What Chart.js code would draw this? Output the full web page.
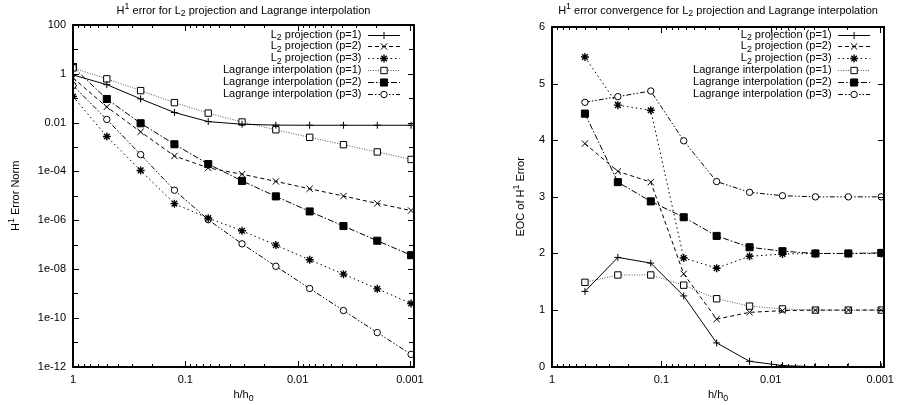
<!DOCTYPE html>
<html><head><meta charset="utf-8">
<script src="https://cdn.jsdelivr.net/npm/chart.js@4.4.1/dist/chart.umd.min.js"></script>
<style>
html,body{margin:0;padding:0;background:#fff;}
#wrap{position:relative;width:901px;height:405px;overflow:hidden;background:#fff;}
#c1{position:absolute;left:0;top:0;}
#c2{position:absolute;left:450px;top:0;}
</style></head><body>
<div id="wrap"><canvas id="c1" width="450" height="405"></canvas><canvas id="c2" width="451" height="405"></canvas></div>
<script>
// ---------- data ----------
const hValues = [1, 0.5, 0.25, 0.125, 0.0625, 0.03125, 0.015625, 0.0078125, 0.00390625, 0.001953125, 0.0009765625];

const errL2p1  = [0.9, 0.36, 0.094, 0.026, 0.011, 0.0086, 0.0079, 0.0078, 0.0078, 0.0078, 0.0078];
const errL2p2  = [0.68, 0.044, 0.0042, 4.3e-4, 1.4e-4, 7.7e-5, 3.9e-5, 1.95e-5, 9.8e-6, 4.9e-6, 2.5e-6];
const errL2p3  = [0.118, 0.0027, 1.1e-4, 4.8e-6, 1.22e-6, 3.7e-7, 9.6e-8, 2.4e-8, 6.2e-9, 1.55e-9, 3.9e-10];
const errLagP1 = [1.75, 0.62, 0.205, 0.066, 0.0245, 0.0106, 0.0051, 0.0025, 0.00125, 0.00063, 0.00031];
const errLagP2 = [1.9, 0.093, 0.0094, 0.0013, 2.0e-4, 4.1e-5, 9.5e-6, 2.3e-6, 5.8e-7, 1.45e-7, 3.7e-8];
const errLagP3 = [0.33, 0.0135, 4.9e-4, 1.7e-5, 1.05e-6, 1.08e-7, 1.3e-8, 1.6e-9, 2.0e-10, 2.5e-11, 3.2e-12];

const eocH = [0.5, 0.25, 0.125, 0.0625, 0.03125, 0.015625, 0.0078125, 0.00390625, 0.001953125, 0.0009765625];
const eocL2p1  = [1.33, 1.93, 1.83, 1.25, 0.42, 0.095, 0.02, 0.0, 0.0, 0.0];
const eocL2p2  = [3.94, 3.45, 3.26, 1.64, 0.84, 0.96, 0.99, 1.0, 1.0, 1.0];
const eocL2p3  = [5.47, 4.62, 4.53, 1.92, 1.74, 1.95, 1.99, 2.0, 2.0, 2.0];
const eocLagP1 = [1.49, 1.62, 1.62, 1.44, 1.2, 1.07, 1.02, 1.0, 1.0, 1.0];
const eocLagP2 = [4.47, 3.26, 2.92, 2.64, 2.31, 2.11, 2.04, 2.0, 2.0, 2.01];
const eocLagP3 = [4.67, 4.77, 4.87, 3.99, 3.27, 3.08, 3.02, 3.0, 3.0, 3.0];

const seriesLabels = ['L_2 projection (p=1)', 'L_2 projection (p=2)', 'L_2 projection (p=3)',
  'Lagrange interpolation (p=1)', 'Lagrange interpolation (p=2)', 'Lagrange interpolation (p=3)'];

const xTickValues = [1, 0.1, 0.01, 0.001];
const xTickLabels = ['1', '0.1', '0.01', '0.001'];
const yLogTickValues = [100, 1, 0.01, 1e-4, 1e-6, 1e-8, 1e-10, 1e-12];
const yLogTickLabels = ['100', '1', '0.01', '1e-04', '1e-06', '1e-08', '1e-10', '1e-12'];
const yLogMinorTicks = [10, 0.1, 1e-3, 1e-5, 1e-7, 1e-9, 1e-11];
const yEocTickValues = [0, 1, 2, 3, 4, 5, 6];
const yEocTickLabels = ['0', '1', '2', '3', '4', '5', '6'];

const leftTitle = 'H^1 error for L_2 projection and Lagrange interpolation';
const rightTitle = 'H^1 error convergence for L_2 projection and Lagrange interpolation';
const xTitle = 'h/h_0';
const leftYTitle = 'H^1 Error Norm';
const rightYTitle = 'EOC of H^1 Error';

// ---------- styles ----------
const FONT = '"Liberation Sans", Arial, Helvetica, sans-serif';
const styles = [
  {dash: [], pt: 'cross', r: 3.5, fill: '#000', line: '#000', bw: 1},
  {dash: [4, 3], pt: 'crossRot', r: 4.5, fill: '#000', line: '#000', bw: 1},
  {dash: [1.5, 3], pt: 'star', r: 4, fill: '#000', line: '#000', bw: 1.4},
  {dash: [1, 1.5], pt: 'rect', r: 4.5, fill: '#fff', line: '#555', bw: 1},
  {dash: [6, 2, 1.5, 2], pt: 'rect', r: 5, fill: '#000', line: '#000', bw: 1},
  {dash: [5, 2, 1.5, 2, 1.5, 2], pt: 'circle', r: 3.2, fill: '#fff', line: '#000', bw: 1}
];

function makeDatasets(xs, ys) {
  return ys.map((arr, i) => ({
    label: seriesLabels[i],
    data: arr.map((v, j) => ({x: xs[j], y: v})),
    borderColor: styles[i].line,
    borderWidth: 1,
    borderDash: styles[i].dash,
    pointStyle: styles[i].pt,
    pointRadius: styles[i].r,
    pointHoverRadius: styles[i].r,
    pointBorderColor: '#000',
    pointBackgroundColor: styles[i].fill,
    pointBorderWidth: styles[i].bw,
    tension: 0,
    fill: false
  }));
}

// ---------- rich text ----------
function parseRich(s) {
  const segs = []; let buf = '';
  for (let i = 0; i < s.length; i++) {
    const c = s[i];
    if ((c === '^' || c === '_') && i + 1 < s.length) {
      if (buf) { segs.push({t: buf, m: 0}); buf = ''; }
      segs.push({t: s[i + 1], m: c === '^' ? 1 : -1}); i++;
    } else buf += c;
  }
  if (buf) segs.push({t: buf, m: 0});
  return segs;
}
function richWidth(ctx, segs, size) {
  let w = 0;
  for (const s of segs) { ctx.font = (s.m ? size * 0.8 : size) + 'px ' + FONT; w += ctx.measureText(s.t).width; }
  return w;
}
function drawRich(ctx, text, x, y, align, size, rot) {
  const segs = parseRich(text);
  ctx.save();
  ctx.translate(x, y);
  if (rot) ctx.rotate(rot);
  const w = richWidth(ctx, segs, size);
  let cx = align === 'right' ? -w : align === 'center' ? -w / 2 : 0;
  ctx.fillStyle = '#000';
  ctx.textBaseline = 'middle';
  ctx.textAlign = 'left';
  for (const s of segs) {
    const sz = s.m ? size * 0.8 : size;
    ctx.font = sz + 'px ' + FONT;
    const dy = s.m === 1 ? -size * 0.38 : s.m === -1 ? size * 0.3 : 0;
    ctx.fillText(s.t, cx, dy);
    cx += ctx.measureText(s.t).width;
  }
  ctx.restore();
}

// ---------- decoration plugin ----------
function decoPlugin(opts) {
  return {
    id: 'deco',
    afterDraw(chart) {
      const ctx = chart.ctx;
      const {left, right, top, bottom} = chart.chartArea;
      const xs = chart.scales.x, ys = chart.scales.y;
      const L = Math.round(left), R = Math.round(right), T = Math.round(top), B = Math.round(bottom);
      ctx.save();
      ctx.strokeStyle = '#000';
      ctx.setLineDash([]);
      // ticks (1px, inward, mirrored)
      ctx.lineWidth = 1;
      ctx.beginPath();
      const xmin = xs.min, xmax = xs.max;
      const minorX = [];
      for (const d of [1, 0.1, 0.01, 0.001]) for (let m = 2; m <= 9; m++) { const v = m * d / 10; if (v >= xmin && v <= xmax) minorX.push(v); }
      for (const v of xTickValues) { const p = Math.round(xs.getPixelForValue(v)) + 0.5; ctx.moveTo(p, B); ctx.lineTo(p, B - 6); ctx.moveTo(p, T); ctx.lineTo(p, T + 6); }
      for (const v of minorX) { const p = Math.round(xs.getPixelForValue(v)) + 0.5; ctx.moveTo(p, B); ctx.lineTo(p, B - 3); ctx.moveTo(p, T); ctx.lineTo(p, T + 3); }
      for (const v of opts.yTicks) { const p = Math.round(ys.getPixelForValue(v)) + 0.5; ctx.moveTo(L, p); ctx.lineTo(L + 6, p); ctx.moveTo(R, p); ctx.lineTo(R - 6, p); }
      for (const v of opts.yMinor) { const p = Math.round(ys.getPixelForValue(v)) + 0.5; ctx.moveTo(L, p); ctx.lineTo(L + 5, p); ctx.moveTo(R, p); ctx.lineTo(R - 5, p); }
      ctx.stroke();
      // frame (2px)
      ctx.lineWidth = 2;
      ctx.strokeRect(L, T, R - L, B - T);
      ctx.restore();
      // titles
      const cx = (left + right) / 2;
      drawRich(ctx, opts.title, cx, 10.5, 'center', 11, 0);
      drawRich(ctx, xTitle, cx, 395, 'center', 11, 0);
      drawRich(ctx, opts.yTitle, opts.yTitleX, (top + bottom) / 2, 'center', 11, -Math.PI / 2);
      // legend
      chart.data.datasets.forEach((ds, i) => {
        const y = 34.5 + i * 11.8;
        drawRich(ctx, ds.label, right - 52.5, y, 'right', 11, 0);
        ctx.save();
        ctx.strokeStyle = ds.borderColor;
        ctx.lineWidth = 1;
        ctx.setLineDash(ds.borderDash);
        ctx.beginPath();
        ctx.moveTo(right - 46, Math.round(y) + 0.5);
        ctx.lineTo(right - 14, Math.round(y) + 0.5);
        ctx.stroke();
        ctx.setLineDash([]);
        ctx.strokeStyle = '#000';
        ctx.lineWidth = ds.pointBorderWidth;
        ctx.fillStyle = ds.pointBackgroundColor;
        Chart.helpers.drawPoint(ctx, {pointStyle: ds.pointStyle, rotation: 0, radius: ds.pointRadius, borderWidth: ds.pointBorderWidth}, right - 30, Math.round(y) + 0.5);
        ctx.restore();
      });
    }
  };
}

function makeChart(id, datasets, yScale, yTicks, yLabels, yMinor, title, yTitle, yTitleX, axisWidth, padTop, padRight) {
  const tickFont = {family: FONT, size: 11};
  return new Chart(document.getElementById(id), {
    type: 'line',
    data: {datasets},
    options: {
      responsive: false,
      animation: false,
      devicePixelRatio: 1,
      layout: {padding: {left: 0, right: padRight, top: padTop, bottom: 0}},
      plugins: {legend: {display: false}, tooltip: {enabled: false}, title: {display: false}},
      scales: {
        x: {
          type: 'logarithmic', min: 0.00092, max: 1, reverse: true, bounds: 'data',
          grid: {display: false, drawTicks: false}, border: {display: false},
          afterBuildTicks: s => { s.ticks = xTickValues.map(v => ({value: v})); },
          afterFit: s => { s.height = 38.3; },
          ticks: {autoSkip: false, maxRotation: 0, padding: 7, color: '#000', font: tickFont,
            callback: v => { const i = xTickValues.indexOf(v); return i >= 0 ? xTickLabels[i] : ''; }}
        },
        y: Object.assign({
          grid: {display: false, drawTicks: false}, border: {display: false},
          afterBuildTicks: s => { s.ticks = yTicks.map(v => ({value: v})); },
          afterFit: s => { s.width = axisWidth; },
          ticks: {autoSkip: false, padding: 7, color: '#000', font: tickFont,
            callback: v => { const i = yTicks.indexOf(v); return i >= 0 ? yLabels[i] : ''; }}
        }, yScale)
      }
    },
    plugins: [decoPlugin({title, yTitle, yTitleX, yTicks, yMinor})]
  });
}

makeChart('c1', makeDatasets(hValues, [errL2p1, errL2p2, errL2p3, errLagP1, errLagP2, errLagP3]),
  {type: 'logarithmic', min: 1e-12, max: 100, bounds: 'data'},
  yLogTickValues, yLogTickLabels, yLogMinorTicks, leftTitle, leftYTitle, 15.5, 73, 25, 36);

makeChart('c2', makeDatasets(eocH, [eocL2p1, eocL2p2, eocL2p3, eocLagP1, eocLagP2, eocLagP3]),
  {type: 'linear', min: 0, max: 6},
  yEocTickValues, yEocTickLabels, [], rightTitle, rightYTitle, 70.7, 102, 27, 8);
</script>
</body></html>
